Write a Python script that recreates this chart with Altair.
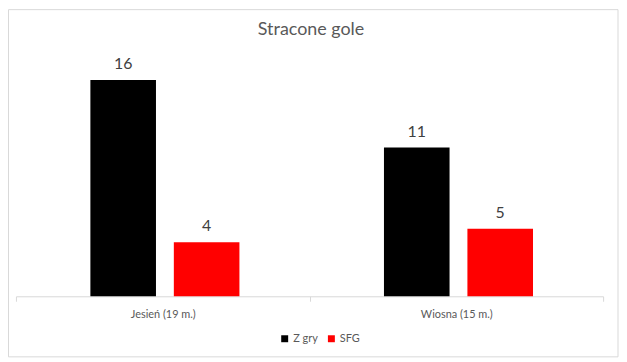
import altair as alt
import pandas as pd

title_text = "Stracone gole"
categories = ["Jesień (19 m.)", "Wiosna (15 m.)"]
series = ["Z gry", "SFG"]
z_gry = [16, 11]
sfg = [4, 5]
colors = ["#000000", "#ff0000"]

rows = []
for i, c in enumerate(categories):
    rows.append({"cat": c, "series": series[0], "value": z_gry[i]})
    rows.append({"cat": c, "series": series[1], "value": sfg[i]})
df = pd.DataFrame(rows)

W, H = 591, 245
FONT = "Lato"

x = alt.X(
    "cat:N", sort=categories, title=None,
    scale=alt.Scale(paddingInner=0, paddingOuter=0),
    axis=alt.Axis(labelAngle=0, labelFontSize=11, labelColor="#595959", labelFont=FONT,
                  domainColor="#d9d9d9", tickColor="#d9d9d9", tickSize=5,
                  tickBand="extent", labelPadding=7),
)
xoff = alt.XOffset("series:N", sort=series,
                   scale=alt.Scale(paddingInner=0.214, paddingOuter=0.866, align=0.515))
y = alt.Y("value:Q", scale=alt.Scale(domain=[0, 18]), axis=None)

bars = alt.Chart(df).mark_bar().encode(
    x=x, xOffset=xoff, y=y,
    color=alt.Color("series:N", sort=series,
                    scale=alt.Scale(domain=series, range=colors),
                    legend=alt.Legend(title=None, orient="none", direction="horizontal",
                                      legendX=265, legendY=282,
                                      symbolType="square", symbolSize=49,
                                      symbolStrokeWidth=0,
                                      labelFontSize=11, labelColor="#595959", labelFont=FONT,
                                      columnPadding=8, labelOffset=3)),
)

labels = alt.Chart(df).mark_text(baseline="bottom", dy=-8, fontSize=16,
                                 color="#404040", font=FONT).encode(
    x=x, xOffset=xoff, y=y, text="value:Q")

frame = alt.Chart(pd.DataFrame({"a": [0]})).mark_rect(
    fill=None, stroke="#d9d9d9", strokeWidth=1).encode(
    x=alt.value(-7.5), x2=alt.value(606), y=alt.value(-43.5), y2=alt.value(306))

title = alt.Chart(pd.DataFrame({"t": [title_text]})).mark_text(
    fontSize=18, color="#595959", font=FONT, baseline="middle", align="center").encode(
    x=alt.value(W / 2 + 1.5), y=alt.value(-23), text="t:N")

chart = alt.layer(frame, bars, labels, title).properties(
    width=W, height=H,
    autosize=alt.AutoSizeParams(type="none"),
    padding={"left": 8, "top": 44, "right": 16, "bottom": 65},
).configure_view(stroke=None)

chart.save("out.html", embed_options={"renderer": "svg", "actions": False})
